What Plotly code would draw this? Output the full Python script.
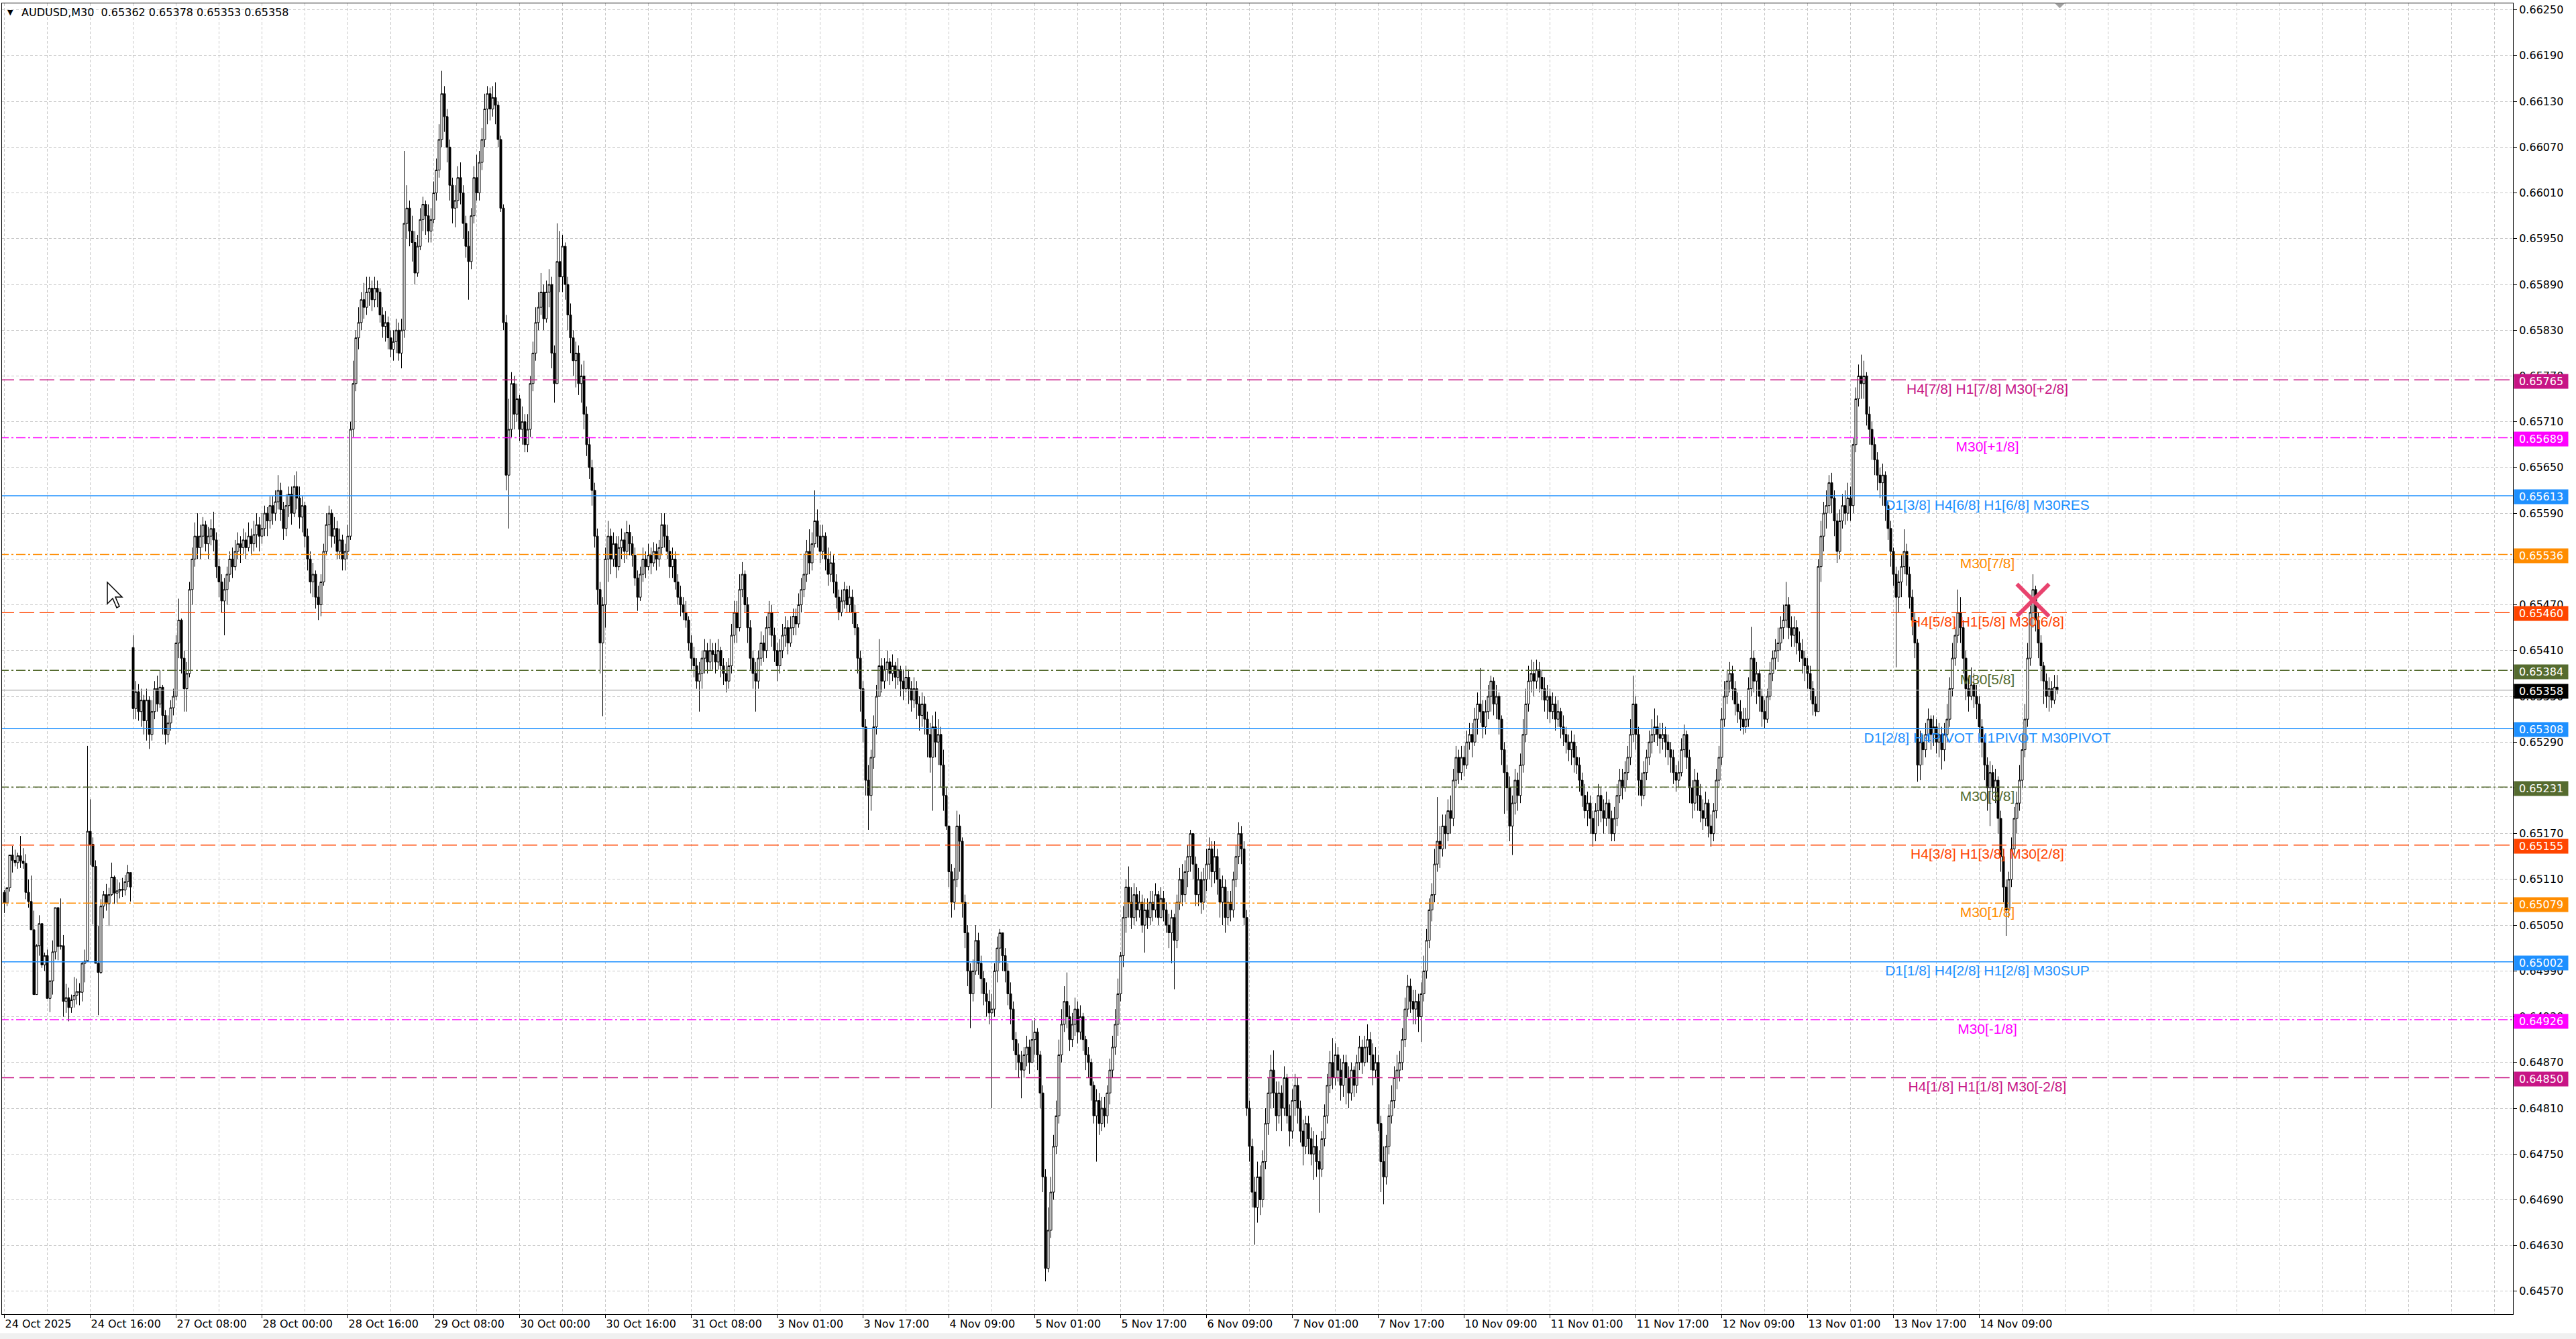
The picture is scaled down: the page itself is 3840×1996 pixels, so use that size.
import plotly.graph_objects as go

# ---------------- DATA (AUDUSD M30; prices in points above 0.60000, e.g. 5358 -> 0.65358) -------------
first_open = 5093

closes = [
    5079, 5099, 5142, 5135, 5132, 5141, 5134, 5131, 5093, 5081, 5044, 4959, 5023, 5052, 4998, 5010,
    4954, 4977, 5015, 5073, 5022, 5023, 4950, 4955, 4942, 4952, 4958, 4963, 4962, 5000, 5003, 5173,
    5156, 5127, 5000, 4988, 5075, 5090, 5078, 5090, 5113, 5092, 5095, 5097, 5096, 5107, 5119, 5100,
    5334, 5356, 5330, 5345, 5318, 5345, 5300, 5330, 5360, 5340, 5362, 5325, 5300, 5315, 5335, 5350,
    5420, 5450, 5400, 5360, 5380, 5490, 5530, 5560, 5545, 5560, 5575, 5550, 5560, 5570, 5555, 5520,
    5500, 5475, 5490, 5510, 5530, 5520, 5540, 5550, 5545, 5555, 5545, 5560, 5550, 5562, 5575, 5560,
    5570, 5590, 5580, 5600, 5590, 5605, 5620, 5595, 5570, 5600, 5615, 5590, 5625, 5610, 5585, 5600,
    5560, 5530, 5500, 5510, 5480, 5470, 5500, 5540, 5575, 5590, 5560, 5570, 5540, 5555, 5530, 5540,
    5560, 5700, 5760, 5820, 5840, 5870, 5860, 5880, 5885, 5870, 5885, 5880, 5850, 5835, 5840, 5820,
    5805, 5815, 5830, 5800, 5830, 5970, 5990, 5960, 5945, 5905, 5940, 5975, 5995, 5980, 5960, 5975,
    6010, 6040, 6080, 6140, 6110, 6070, 6020, 5990, 6000, 6030, 6010, 5970, 5940, 5920, 5980, 6030,
    6010, 6050, 6080, 6120, 6140, 6120, 6135, 6125, 6080, 5990, 5840, 5640, 5700, 5760, 5720, 5740,
    5700, 5710, 5680, 5700, 5760, 5800, 5840, 5860, 5880, 5845, 5880, 5890, 5800, 5760, 5920, 5900,
    5940, 5890, 5850, 5820, 5790, 5800, 5760, 5770, 5720, 5680, 5650, 5620, 5560, 5490, 5420, 5470,
    5530, 5560, 5530, 5550, 5520, 5545, 5555, 5540, 5565, 5550, 5535, 5505, 5480, 5510, 5530, 5520,
    5535, 5525, 5540, 5530, 5545, 5575, 5560, 5540, 5520, 5530, 5500, 5480, 5470, 5460, 5450, 5420,
    5400, 5390, 5370, 5380, 5400, 5410, 5395, 5410, 5405, 5395, 5410, 5390, 5380, 5370, 5390, 5430,
    5460, 5440, 5490, 5510, 5470, 5440, 5400, 5380, 5370, 5400, 5420, 5410, 5440, 5460, 5430, 5410,
    5390, 5410, 5430, 5440, 5420, 5440, 5455, 5445, 5470, 5490, 5510, 5540, 5525, 5550, 5580, 5560,
    5540, 5560, 5530, 5510, 5525, 5500, 5480, 5460, 5475, 5490, 5470, 5480, 5460, 5440, 5400, 5360,
    5310, 5240, 5220, 5270, 5310, 5350, 5390, 5370, 5385, 5395, 5380, 5390, 5375, 5385, 5370, 5360,
    5375, 5360, 5345, 5360, 5340, 5325, 5340, 5320, 5300, 5270, 5310, 5290, 5300, 5260, 5220, 5180,
    5120, 5080, 5110, 5180, 5160, 5080, 5040, 4990, 4960, 4990, 5030, 5000, 4980, 4960, 4950, 4935,
    4940, 4990, 5020, 5040, 5010, 4990, 4960, 4940, 4900, 4880, 4870, 4860, 4880, 4890, 4870, 4900,
    4910, 4880, 4830, 4720, 4600, 4650, 4700, 4760, 4800, 4880, 4920, 4950, 4930, 4900, 4920, 4940,
    4910, 4930, 4900, 4880, 4870, 4840, 4800, 4820, 4790, 4810, 4800, 4830, 4860, 4890, 4920, 4960,
    5010, 5060, 5100, 5080, 5060, 5090, 5070, 5080, 5050, 5070, 5060, 5080, 5070, 5090, 5060, 5085,
    5070, 5050, 5040, 5060, 5030, 5080, 5110, 5090, 5120, 5140, 5170, 5130, 5090, 5110, 5080, 5110,
    5130, 5150, 5120, 5140, 5110, 5080, 5100, 5060, 5080, 5070, 5110, 5140, 5170, 5150, 5060, 4810,
    4760, 4700, 4680, 4720, 4690, 4740, 4790, 4830, 4860, 4830, 4800, 4830, 4810, 4850, 4800, 4780,
    4820, 4840, 4810, 4780, 4760, 4790, 4770, 4750, 4760, 4740, 4730, 4770, 4800, 4840, 4870, 4850,
    4880, 4860, 4840, 4870, 4850, 4830, 4860, 4840, 4870, 4890, 4870, 4890, 4900, 4880, 4860, 4870,
    4790, 4740, 4720, 4760, 4800, 4820, 4850, 4860, 4870, 4900, 4940, 4970, 4950, 4940, 4950, 4930,
    4960, 4990, 5030, 5070, 5090, 5130, 5160, 5150, 5180, 5170, 5200, 5190, 5240, 5270, 5250, 5270,
    5260, 5290, 5300, 5290, 5320, 5340, 5330, 5310, 5330, 5350, 5370, 5340, 5350, 5320, 5280, 5250,
    5230, 5180, 5210, 5240, 5220, 5260, 5300, 5340, 5370, 5380, 5370, 5385, 5375, 5360, 5345, 5350,
    5330, 5340, 5320, 5330, 5310, 5300, 5290, 5280, 5290, 5270, 5260, 5240, 5220, 5200, 5210, 5190,
    5170, 5200, 5220, 5200, 5190, 5210, 5190, 5170, 5190, 5220, 5240, 5230, 5250, 5270, 5300, 5340,
    5300, 5240, 5220, 5250, 5270, 5290, 5300, 5310, 5300, 5295, 5300, 5290, 5280, 5270, 5250, 5240,
    5250, 5280, 5300, 5270, 5230, 5210, 5240, 5220, 5200, 5190, 5210, 5180, 5170, 5200, 5240, 5270,
    5320, 5350, 5370, 5380, 5360, 5340, 5330, 5320, 5310, 5320, 5360, 5400, 5370, 5380, 5350, 5330,
    5320, 5350, 5380, 5400, 5410, 5420, 5440, 5450, 5470, 5440, 5430, 5440, 5420, 5410, 5400, 5390,
    5380, 5360, 5340, 5330, 5520, 5560, 5590, 5600, 5630, 5610, 5580, 5540, 5580, 5600, 5590, 5610,
    5600, 5680, 5740, 5770, 5760, 5770, 5720, 5700, 5680, 5660, 5640, 5630, 5640, 5600, 5570, 5540,
    5510, 5480, 5500, 5520, 5540, 5510, 5480, 5450, 5420, 5260, 5290, 5280, 5300, 5320, 5300, 5310,
    5290, 5300, 5280, 5300, 5320, 5360, 5400, 5430, 5460, 5440, 5400, 5360, 5350, 5365, 5350, 5340,
    5310, 5290, 5260, 5230, 5250, 5230, 5240, 5190, 5140, 5100, 5070, 5110, 5150, 5190, 5210, 5240,
    5280, 5320, 5400, 5460, 5490, 5450, 5420, 5390, 5370, 5350, 5360, 5345, 5362, 5358,
]

highs = [
    5096, 5100, 5142, 5154, 5149, 5145, 5167, 5151, 5143, 5110, 5115, 5069, 5025, 5063, 5052, 5014,
    5018, 4977, 5030, 5073, 5073, 5085, 5037, 4973, 4968, 4959, 4982, 4980, 4974, 5002, 5018, 5285,
    5215, 5165, 5135, 5049, 5084, 5095, 5104, 5099, 5132, 5115, 5110, 5106, 5112, 5116, 5129, 5119,
    5430, 5370, 5366, 5360, 5352, 5360, 5350, 5345, 5370, 5377, 5384, 5365, 5332, 5325, 5345, 5360,
    5430, 5478, 5452, 5410, 5395, 5500, 5545, 5578, 5590, 5575, 5585, 5580, 5572, 5582, 5592, 5565,
    5530, 5510, 5505, 5520, 5540, 5545, 5555, 5565, 5560, 5570, 5565, 5578, 5570, 5580, 5590, 5585,
    5590, 5600, 5598, 5612, 5612, 5620, 5640, 5630, 5605, 5615, 5625, 5625, 5640, 5645, 5625, 5612,
    5605, 5570, 5540, 5525, 5515, 5495, 5510, 5550, 5590, 5600, 5595, 5585, 5580, 5570, 5562, 5550,
    5575, 5710, 5790, 5830, 5860, 5880, 5892, 5900, 5900, 5895, 5900, 5895, 5885, 5860, 5855, 5848,
    5830, 5830, 5845, 5840, 5845, 6065, 6020, 6000, 5980, 5960, 5955, 5990, 6005, 6000, 5995, 5990,
    6025, 6055, 6100, 6170, 6150, 6120, 6080, 6030, 6020, 6045, 6050, 6020, 5980, 5960, 5990, 6045,
    6060, 6065, 6095, 6140, 6150, 6148, 6150, 6155, 6130, 6085, 5995, 5850, 5740, 5775, 5770, 5760,
    5745, 5730, 5720, 5720, 5770, 5815, 5860, 5880, 5905, 5890, 5895, 5910, 5900, 5810, 5970, 5960,
    5955, 5945, 5900, 5865, 5830, 5815, 5810, 5785, 5790, 5730, 5690, 5660, 5630, 5570, 5500, 5480,
    5545, 5580, 5570, 5565, 5560, 5560, 5570, 5565, 5580, 5575, 5560, 5545, 5515, 5520, 5545, 5540,
    5550, 5545, 5552, 5550, 5555, 5590, 5590, 5575, 5555, 5545, 5540, 5510, 5495, 5480, 5475, 5455,
    5430, 5415, 5400, 5395, 5410, 5425, 5420, 5425, 5420, 5420, 5425, 5415, 5400, 5395, 5400, 5445,
    5475, 5475, 5510, 5526, 5515, 5480, 5450, 5410, 5395, 5410, 5435, 5430, 5455, 5475, 5470, 5440,
    5420, 5425, 5445, 5455, 5450, 5455, 5465, 5465, 5485, 5505, 5537, 5555, 5569, 5565, 5620, 5595,
    5575, 5575, 5565, 5545, 5540, 5535, 5510, 5490, 5490, 5500, 5495, 5495, 5490, 5470, 5445, 5410,
    5370, 5320, 5260, 5280, 5325, 5365, 5425, 5400, 5400, 5410, 5400, 5405, 5395, 5400, 5390, 5385,
    5390, 5385, 5370, 5375, 5370, 5350, 5355, 5350, 5330, 5315, 5325, 5330, 5320, 5310, 5280, 5230,
    5180, 5130, 5125, 5200, 5195, 5165, 5090, 5050, 5000, 5005, 5050, 5040, 5010, 4990, 4975, 4965,
    4960, 5000, 5035, 5045, 5040, 5020, 5000, 4975, 4950, 4910, 4895, 4885, 4890, 4905, 4900, 4925,
    4928, 4915, 4885, 4840, 4730, 4680, 4720, 4775, 4820, 4900, 4940, 4970, 4988, 4945, 4935, 4955,
    4950, 4945, 4935, 4905, 4890, 4875, 4845, 4835, 4830, 4825, 4825, 4840, 4875, 4905, 4940, 4980,
    5015, 5075, 5110, 5127, 5100, 5105, 5100, 5095, 5090, 5085, 5085, 5095, 5095, 5105, 5095, 5100,
    5095, 5080, 5065, 5070, 5065, 5090, 5125, 5130, 5135, 5155, 5175, 5170, 5140, 5125, 5120, 5125,
    5150, 5165, 5160, 5160, 5150, 5125, 5115, 5110, 5095, 5095, 5120, 5155, 5185, 5180, 5160, 5070,
    4820, 4770, 4720, 4740, 4735, 4755, 4810, 4850, 4880, 4886, 4845, 4845, 4840, 4865, 4855, 4815,
    4835, 4855, 4850, 4820, 4795, 4800, 4800, 4785, 4780, 4775, 4755, 4780, 4815, 4855, 4885, 4902,
    4895, 4890, 4875, 4880, 4880, 4865, 4870, 4865, 4880, 4905, 4900, 4905, 4920, 4910, 4895, 4890,
    4880, 4800, 4760, 4775, 4815, 4840, 4865, 4880, 4885, 4915, 4955, 4985, 4980, 4965, 4965, 4960,
    4975, 5010, 5045, 5085, 5105, 5150, 5218, 5180, 5195, 5195, 5215, 5220, 5255, 5285, 5280, 5285,
    5285, 5305, 5315, 5315, 5335, 5355, 5387, 5345, 5345, 5365, 5377, 5375, 5365, 5355, 5325, 5290,
    5260, 5245, 5220, 5255, 5250, 5275, 5320, 5360, 5390, 5398, 5395, 5398, 5395, 5385, 5375, 5365,
    5360, 5355, 5350, 5345, 5335, 5325, 5310, 5300, 5305, 5300, 5285, 5270, 5250, 5235, 5225, 5220,
    5200, 5210, 5235, 5230, 5215, 5225, 5215, 5200, 5205, 5235, 5255, 5255, 5265, 5285, 5320, 5377,
    5350, 5310, 5250, 5265, 5280, 5305, 5320, 5334, 5325, 5315, 5315, 5310, 5300, 5290, 5280, 5260,
    5265, 5295, 5313, 5305, 5280, 5240, 5255, 5250, 5235, 5215, 5225, 5215, 5195, 5210, 5255, 5285,
    5335, 5370, 5385, 5395, 5390, 5370, 5355, 5345, 5335, 5335, 5375, 5441, 5410, 5395, 5385, 5360,
    5345, 5360, 5395, 5410, 5425, 5440, 5455, 5470, 5500, 5480, 5455, 5455, 5450, 5435, 5425, 5410,
    5400, 5390, 5370, 5350, 5530, 5580, 5605, 5620, 5640, 5643, 5620, 5590, 5595, 5615, 5620, 5630,
    5625, 5690, 5755, 5785, 5798, 5790, 5775, 5730, 5710, 5690, 5670, 5650, 5655, 5645, 5605, 5580,
    5545, 5520, 5515, 5535, 5569, 5550, 5520, 5490, 5460, 5425, 5305, 5300, 5315, 5334, 5325, 5325,
    5320, 5315, 5310, 5315, 5340, 5375, 5420, 5441, 5490, 5480, 5450, 5410, 5375, 5388, 5380, 5365,
    5350, 5320, 5300, 5270, 5265, 5260, 5255, 5245, 5200, 5150, 5110, 5120, 5165, 5205, 5225, 5260,
    5300, 5340, 5420, 5475, 5510, 5495, 5460, 5430, 5395, 5380, 5375, 5370, 5378, 5378,
]

lows = [
    5066, 5075, 5094, 5119, 5127, 5124, 5125, 5124, 5084, 5073, 5044, 4959, 4959, 5010, 4994, 4990,
    4954, 4936, 4959, 5005, 5004, 5018, 4930, 4935, 4924, 4935, 4942, 4946, 4945, 4950, 4975, 5004,
    5129, 5051, 5000, 4932, 4986, 5059, 5069, 5049, 5088, 5078, 5078, 5085, 5087, 5089, 5100, 5081,
    5320, 5320, 5318, 5310, 5300, 5292, 5281, 5292, 5320, 5330, 5335, 5300, 5287, 5290, 5305, 5325,
    5345, 5400, 5380, 5330, 5330, 5375, 5470, 5520, 5530, 5530, 5545, 5540, 5530, 5548, 5540, 5505,
    5480, 5460, 5430, 5470, 5500, 5505, 5515, 5530, 5525, 5535, 5530, 5540, 5535, 5540, 5545, 5540,
    5550, 5560, 5560, 5570, 5575, 5580, 5595, 5580, 5555, 5560, 5585, 5575, 5585, 5595, 5570, 5565,
    5545, 5515, 5485, 5480, 5465, 5450, 5455, 5495, 5535, 5560, 5545, 5550, 5530, 5530, 5515, 5515,
    5530, 5555, 5690, 5750, 5805, 5830, 5845, 5850, 5862, 5855, 5860, 5860, 5840, 5820, 5815, 5805,
    5795, 5790, 5800, 5790, 5780, 5820, 5950, 5940, 5920, 5890, 5900, 5935, 5960, 5955, 5945, 5945,
    5970, 6000, 6030, 6070, 6090, 6050, 6000, 5970, 5965, 5990, 5995, 5950, 5925, 5870, 5910, 5970,
    6000, 6000, 6040, 6070, 6100, 6105, 6110, 6100, 6070, 5985, 5830, 5620, 5570, 5690, 5700, 5710,
    5685, 5680, 5670, 5670, 5690, 5750, 5790, 5830, 5850, 5830, 5840, 5860, 5780, 5735, 5760, 5880,
    5880, 5870, 5830, 5800, 5770, 5755, 5745, 5735, 5700, 5665, 5635, 5600, 5545, 5470, 5380, 5324,
    5440, 5500, 5510, 5520, 5505, 5515, 5530, 5525, 5530, 5535, 5520, 5495, 5462, 5475, 5500, 5505,
    5515, 5510, 5520, 5515, 5520, 5535, 5545, 5530, 5505, 5505, 5490, 5470, 5455, 5450, 5440, 5410,
    5385, 5375, 5360, 5330, 5360, 5380, 5380, 5385, 5385, 5380, 5385, 5375, 5365, 5355, 5360, 5380,
    5420, 5420, 5435, 5480, 5460, 5420, 5385, 5360, 5330, 5360, 5390, 5395, 5400, 5430, 5415, 5395,
    5370, 5380, 5400, 5415, 5405, 5415, 5430, 5430, 5440, 5460, 5480, 5500, 5510, 5515, 5545, 5545,
    5525, 5530, 5515, 5495, 5500, 5485, 5465, 5450, 5455, 5465, 5460, 5460, 5445, 5430, 5380, 5330,
    5290, 5220, 5175, 5200, 5255, 5300, 5350, 5355, 5360, 5370, 5365, 5370, 5360, 5365, 5350, 5345,
    5355, 5340, 5330, 5335, 5320, 5305, 5310, 5300, 5270, 5250, 5200, 5270, 5260, 5230, 5200, 5175,
    5100, 5060, 5070, 5100, 5120, 5060, 5020, 4970, 4915, 4950, 4985, 4985, 4960, 4945, 4930, 4920,
    4810, 4930, 4975, 5000, 4990, 4975, 4945, 4920, 4885, 4860, 4850, 4823, 4850, 4865, 4855, 4870,
    4880, 4860, 4810, 4700, 4583, 4595, 4640, 4690, 4750, 4790, 4870, 4910, 4915, 4885, 4890, 4905,
    4895, 4900, 4885, 4860, 4850, 4820, 4790, 4740, 4775, 4780, 4785, 4790, 4815, 4850, 4880, 4905,
    4950, 4995, 5040, 5060, 5045, 5050, 5055, 5060, 5040, 5014, 5045, 5050, 5055, 5060, 5050, 5060,
    5055, 5040, 5020, 5000, 4966, 5020, 5070, 5075, 5080, 5100, 5120, 5110, 5075, 5075, 5065, 5070,
    5095, 5110, 5100, 5105, 5090, 5060, 5050, 5040, 5050, 5055, 5060, 5100, 5130, 5130, 5050, 4800,
    4740, 4680, 4631, 4660, 4670, 4680, 4730, 4775, 4810, 4810, 4780, 4790, 4780, 4800, 4790, 4760,
    4770, 4800, 4790, 4765, 4735, 4750, 4750, 4735, 4716, 4720, 4673, 4720, 4760, 4790, 4830, 4835,
    4840, 4845, 4820, 4825, 4815, 4810, 4820, 4825, 4830, 4860, 4855, 4865, 4870, 4860, 4840, 4850,
    4780, 4700, 4684, 4710, 4750, 4790, 4810, 4835, 4845, 4860, 4890, 4930, 4935, 4920, 4920, 4910,
    4897, 4950, 4980, 5020, 5055, 5080, 5120, 5125, 5140, 5150, 5160, 5170, 5180, 5230, 5235, 5240,
    5245, 5255, 5280, 5270, 5285, 5300, 5315, 5295, 5300, 5320, 5330, 5325, 5320, 5300, 5260, 5196,
    5200, 5160, 5142, 5195, 5200, 5210, 5250, 5290, 5330, 5355, 5350, 5360, 5355, 5345, 5330, 5320,
    5315, 5320, 5305, 5310, 5295, 5285, 5275, 5265, 5260, 5250, 5248, 5225, 5205, 5190, 5180, 5170,
    5153, 5160, 5180, 5185, 5170, 5180, 5170, 5160, 5160, 5180, 5210, 5215, 5225, 5240, 5260, 5290,
    5280, 5220, 5206, 5215, 5240, 5260, 5275, 5290, 5285, 5275, 5280, 5270, 5260, 5250, 5235, 5225,
    5230, 5245, 5270, 5255, 5210, 5190, 5200, 5200, 5185, 5175, 5180, 5165, 5153, 5160, 5190, 5230,
    5260, 5310, 5340, 5355, 5345, 5325, 5315, 5305, 5300, 5302, 5310, 5350, 5355, 5340, 5330, 5310,
    5308, 5315, 5345, 5370, 5385, 5395, 5410, 5425, 5440, 5425, 5415, 5415, 5405, 5395, 5380, 5370,
    5360, 5345, 5325, 5324, 5330, 5500, 5540, 5570, 5590, 5590, 5560, 5525, 5530, 5570, 5575, 5580,
    5580, 5590, 5670, 5730, 5740, 5740, 5705, 5680, 5660, 5640, 5620, 5610, 5600, 5580, 5555, 5520,
    5495, 5388, 5460, 5480, 5510, 5495, 5465, 5430, 5400, 5238, 5240, 5260, 5270, 5290, 5280, 5285,
    5275, 5270, 5254, 5265, 5290, 5310, 5350, 5390, 5420, 5420, 5380, 5345, 5330, 5345, 5335, 5320,
    5295, 5270, 5240, 5200, 5180, 5215, 5210, 5170, 5120, 5080, 5036, 5060, 5100, 5140, 5170, 5200,
    5230, 5270, 5310, 5390, 5440, 5435, 5400, 5370, 5340, 5335, 5330, 5335, 5340, 5353,
]

# weekend gap open (Monday 27 Oct)
gap_bars = [48]
gap_opens = [5414]

tick_labels = [
    "24 Oct 2025", "24 Oct 16:00", "27 Oct 08:00", "28 Oct 00:00", "28 Oct 16:00", "29 Oct 08:00",
    "30 Oct 00:00", "30 Oct 16:00", "31 Oct 08:00", "3 Nov 01:00", "3 Nov 17:00", "4 Nov 09:00",
    "5 Nov 01:00", "5 Nov 17:00", "6 Nov 09:00", "7 Nov 01:00", "7 Nov 17:00", "10 Nov 09:00",
    "11 Nov 01:00", "11 Nov 17:00", "12 Nov 09:00", "13 Nov 01:00", "13 Nov 17:00", "14 Nov 09:00",
]
bars_per_label = 32

y_tick_values = [
    0.64570, 0.64630, 0.64690, 0.64750, 0.64810, 0.64870, 0.64930, 0.64990, 0.65050, 0.65110,
    0.65170, 0.65230, 0.65290, 0.65350, 0.65410, 0.65470, 0.65530, 0.65590, 0.65650, 0.65710,
    0.65770, 0.65830, 0.65890, 0.65950, 0.66010, 0.66070, 0.66130, 0.66190, 0.66250,
]

level_prices = [0.65765, 0.65689, 0.65613, 0.65536, 0.65460, 0.65384, 0.65308,
                0.65231, 0.65155, 0.65079, 0.65002, 0.64926, 0.64850]
level_names = [
    "H4[7/8] H1[7/8] M30[+2/8]", "M30[+1/8]", "D1[3/8] H4[6/8] H1[6/8] M30RES", "M30[7/8]",
    "H4[5/8] H1[5/8] M30[6/8]", "M30[5/8]", "D1[2/8] H4PIVOT H1PIVOT M30PIVOT", "M30[3/8]",
    "H4[3/8] H1[3/8] M30[2/8]", "M30[1/8]", "D1[1/8] H4[2/8] H1[2/8] M30SUP", "M30[-1/8]",
    "H4[1/8] H1[1/8] M30[-2/8]",
]
level_colors = ["#C71585", "#FF00FF", "#1E90FF", "#FF8C00", "#FF4500", "#556B2F", "#1E90FF",
                "#556B2F", "#FF4500", "#FF8C00", "#1E90FF", "#FF00FF", "#C71585"]
level_styles = ["dash", "dashdot", "solid", "dashdot", "dash", "dashdot", "solid",
                "dashdot", "dash", "dashdot", "solid", "dashdot", "dash"]

last_price = 0.65358
title_text = "AUDUSD,M30\u00a0 0.65362 0.65378 0.65353 0.65358"
signal_bar = 756
signal_price = 0.65476

# ---------------- STYLE / GEOMETRY -------------
W, H = 3840, 1996
M_L, M_R, M_T, M_B = 3, 94, 5, 37
X_RANGE = [-0.875, 934.875]          # 4 px per bar, bar centres on half pixels
Y_RANGE = [0.645400, 0.662585]
PX_PER_PRICE = 113700.0              # vertical pixels per 1.0 of price
LABEL_BAR = 739
LABEL_DROP_PX = 5
DASHES = {"dash": "22px,8px", "dashdot": "14px,4px,3px,4px", "solid": "solid"}
GRID = "#C8C8C8"
AXIS_FONT = "DejaVu Sans"
TEXT_FONT = "Liberation Sans, Arial, sans-serif"


def to_price(v):
    return round(0.6 + v / 100000.0, 5)


n = min(len(closes), len(highs), len(lows))
bars = list(range(n))
opens_pts = [first_open] + closes[: n - 1]
for b, o in zip(gap_bars, gap_opens):
    opens_pts[b] = o

fig = go.Figure()

# level lines (below candles)
for p, c, s in zip(level_prices, level_colors, level_styles):
    fig.add_trace(go.Scatter(x=[X_RANGE[0] - 1, X_RANGE[1] + 1], y=[p, p], mode="lines",
                             line=dict(color=c, width=1.5, dash=DASHES[s]), hoverinfo="skip"))
# current bid line
fig.add_trace(go.Scatter(x=[X_RANGE[0] - 1, X_RANGE[1] + 1], y=[last_price, last_price], mode="lines",
                         line=dict(color="#B4B4B4", width=1.4), hoverinfo="skip"))
# level text labels (drawn beneath the candles)
fig.add_trace(go.Scatter(x=[LABEL_BAR] * len(level_prices),
                         y=[p - LABEL_DROP_PX / PX_PER_PRICE for p in level_prices], mode="text",
                         text=level_names, textposition="bottom center",
                         textfont=dict(family=TEXT_FONT, size=21, color=level_colors),
                         hoverinfo="skip"))

fig.add_trace(go.Candlestick(
    x=bars,
    open=[to_price(v) for v in opens_pts[:n]],
    high=[to_price(v) for v in highs[:n]],
    low=[to_price(v) for v in lows[:n]],
    close=[to_price(v) for v in closes[:n]],
    increasing=dict(line=dict(color="black", width=1), fillcolor="white"),
    decreasing=dict(line=dict(color="black", width=1), fillcolor="black"),
    whiskerwidth=0, hoverinfo="skip",
))

# signal cross
fig.add_trace(go.Scatter(x=[signal_bar], y=[signal_price], mode="markers",
                         marker=dict(symbol="x-thin", size=48, line=dict(width=6, color="#E8436E")),
                         hoverinfo="skip"))

# price tags on the right axis
annotations = []
for p, c in zip(level_prices, level_colors):
    annotations.append(dict(x=1, xref="paper", xanchor="left", xshift=1, y=p, yref="y", yanchor="middle",
                            yshift=-2, text="%.5f" % p, showarrow=False, bgcolor=c, width=80, height=21,
                            borderpad=0, font=dict(family=AXIS_FONT, size=16, color="white")))
annotations.append(dict(x=1, xref="paper", xanchor="left", xshift=1, y=last_price, yref="y",
                        yanchor="middle", yshift=-2, text="%.5f" % last_price, showarrow=False,
                        bgcolor="black", width=80, height=21, borderpad=0,
                        font=dict(family=AXIS_FONT, size=16, color="white")))
# title
annotations.append(dict(x=0, xref="paper", xanchor="left", xshift=6, y=1, yref="paper", yanchor="middle",
                        yshift=-13, text="\u25BC", showarrow=False,
                        font=dict(family=AXIS_FONT, size=11, color="black")))
annotations.append(dict(x=0, xref="paper", xanchor="left", xshift=27, y=1, yref="paper", yanchor="middle",
                        yshift=-13, text=title_text, showarrow=False,
                        font=dict(family=AXIS_FONT, size=16, color="black")))

# mouse pointer decoration (pixel offsets converted to axis units)
px_per_bar = 4.0
tip_px = (160, 868)
arrow = [(0, 0), (0, 32), (8, 24), (14, 38), (18, 36), (12, 22), (22, 22)]


def px_to_data(px, py):
    return ((px - 6.5) / px_per_bar, 0.6625 - (py - 14.7) / PX_PER_PRICE)


pts = [px_to_data(tip_px[0] + dx, tip_px[1] + dy) for dx, dy in arrow]
path = "M " + " L ".join("%.4f,%.6f" % (a, b) for a, b in pts) + " Z"
shapes = [
    dict(type="path", path=path, xref="x", yref="y", fillcolor="white",
         line=dict(color="black", width=1.5), layer="above"),
    # chart-shift marker at top
    dict(type="path", xref="x", yref="paper",
         path="M 764.3,1 L 767.7,1 L 766,0.9965 Z", fillcolor="#A0A0A0",
         line=dict(color="#A0A0A0", width=1)),
    # window bottom strip
    dict(type="rect", xref="paper", yref="paper", x0=-0.01, x1=1.03, y0=-0.0145, y1=-0.02,
         fillcolor="#F0F0F0", line=dict(width=0)),
]

fig.update_layout(
    width=W, height=H, margin=dict(l=M_L, r=M_R, t=M_T, b=M_B, pad=0),
    paper_bgcolor="white", plot_bgcolor="white", showlegend=False, hovermode=False,
    font=dict(family=AXIS_FONT, size=16, color="black"),
    boxgap=0.25, boxgroupgap=0,
    annotations=annotations, shapes=shapes,
)
fig.update_xaxes(
    range=X_RANGE, tickmode="array",
    tickvals=[i * bars_per_label for i in range(len(tick_labels))], ticktext=tick_labels,
    ticks="outside", ticklen=5, tickcolor="black", ticklabelposition="outside right",
    tickfont=dict(family=AXIS_FONT, size=16, color="black"),
    showgrid=True, gridcolor=GRID, griddash="4px,3px", gridwidth=1,
    minor=dict(tickmode="linear", tick0=0, dtick=bars_per_label // 2, showgrid=True,
               gridcolor=GRID, griddash="4px,3px", gridwidth=1, ticks=""),
    showline=True, linecolor="black", linewidth=1, mirror=True, zeroline=False,
    rangeslider=dict(visible=False), fixedrange=True,
)
fig.update_yaxes(
    side="right", range=Y_RANGE, tickmode="array", tickvals=y_tick_values, tickformat=".5f",
    ticks="outside", ticklen=5, tickcolor="black",
    tickfont=dict(family=AXIS_FONT, size=16, color="black"),
    showgrid=True, gridcolor=GRID, griddash="4px,3px", gridwidth=1,
    showline=True, linecolor="black", linewidth=1, mirror=True, zeroline=False, fixedrange=True,
)

fig.write_html("out.html", config={"displayModeBar": False},
               post_script="document.body.style.margin='0';document.body.style.overflow='hidden';")
